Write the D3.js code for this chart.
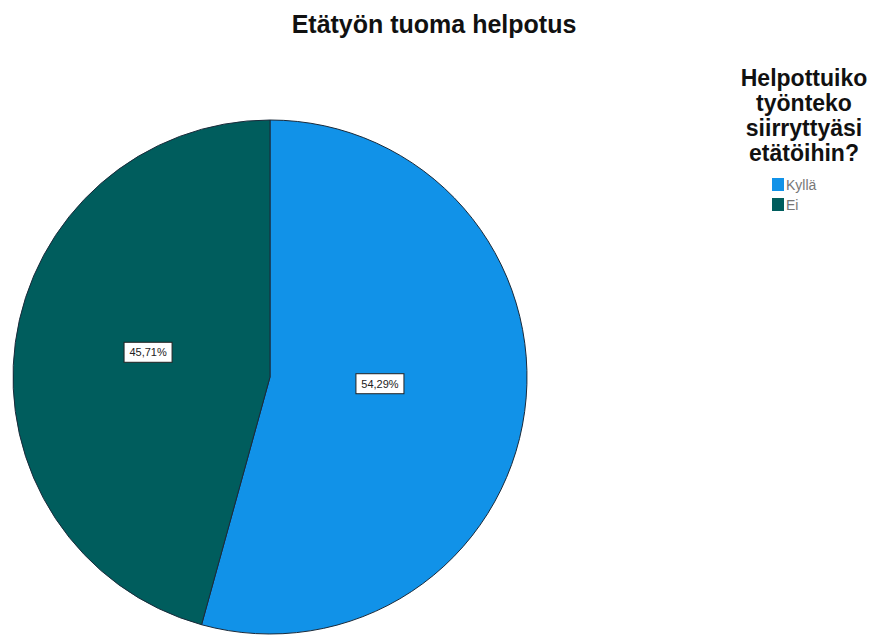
<!DOCTYPE html>
<html>
<head>
<meta charset="utf-8">
<script src="https://cdn.jsdelivr.net/npm/d3@7"></script>
<style>
  body { margin: 0; background: #fff; }
  text { font-family: "Liberation Sans", Arial, sans-serif; }
</style>
</head>
<body>
<div class="container"></div>
<script>
// Pie data
var categories = ['Kyllä', 'Ei'];
var values = [54.29, 45.71];
var colors = ['#1192e8', '#005d5d'];
var legendTitle = ['Helpottuiko', 'työnteko', 'siirryttyäsi', 'etätöihin?'];

var width = 874, height = 636;
var cx = 270, cy = 377, radius = 257;

var svg = d3.select('.container')
  .append('svg')
  .attr('width', width)
  .attr('height', height);

svg.append('text')
  .attr('x', 434)
  .attr('y', 33)
  .attr('text-anchor', 'middle')
  .style('font-size', '25px')
  .style('font-weight', 'bold')
  .attr('fill', '#111')
  .text('Etätyön tuoma helpotus');

var pie = d3.pie().sort(null).value(d => d);
var arcs = pie(values);
var arc = d3.arc().innerRadius(0).outerRadius(radius);
var labelArc = d3.arc().innerRadius(117).outerRadius(117);

var g = svg.append('g').attr('transform', 'translate(' + cx + ',' + cy + ')');

g.selectAll('path.slice')
  .data(arcs)
  .enter().append('path')
  .attr('class', 'slice')
  .attr('d', arc)
  .attr('fill', (d, i) => colors[i])
  .attr('stroke', '#1a2a3a')
  .attr('stroke-width', 1);

var fmt = v => v.toFixed(2).replace('.', ',') + '%';

// labels sit a bit up and left of the centroid, like the original
var labels = g.selectAll('g.lbl')
  .data(arcs)
  .enter().append('g')
  .attr('class', 'lbl')
  .attr('transform', d => {
    var c = labelArc.centroid(d);
    return 'translate(' + (c[0] - 6) + ',' + (c[1] - 9) + ')';
  });

labels.append('rect')
  .attr('x', -24)
  .attr('y', -10)
  .attr('width', 48)
  .attr('height', 20)
  .attr('fill', '#fff')
  .attr('stroke', '#222')
  .attr('stroke-width', 1);

labels.append('text')
  .attr('text-anchor', 'middle')
  .attr('dy', '0.35em')
  .style('font-size', '11px')
  .attr('fill', '#222')
  .text(d => fmt(d.data));

// Legend
var legend = svg.append('g');
legend.selectAll('text.ltitle')
  .data(legendTitle)
  .enter().append('text')
  .attr('class', 'ltitle')
  .attr('x', 804)
  .attr('y', (d, i) => 86 + i * 25)
  .attr('text-anchor', 'middle')
  .style('font-size', '23px')
  .style('font-weight', 'bold')
  .attr('fill', '#111')
  .text(d => d);

var items = legend.selectAll('g.item')
  .data(categories)
  .enter().append('g')
  .attr('class', 'item')
  .attr('transform', (d, i) => 'translate(772,' + (178 + i * 20) + ')');

items.append('rect')
  .attr('width', 12)
  .attr('height', 13)
  .attr('fill', (d, i) => colors[i]);

items.append('text')
  .attr('x', 14)
  .attr('y', 12)
  .style('font-size', '14px')
  .attr('fill', '#777')
  .text(d => d);
</script>
</body>
</html>
